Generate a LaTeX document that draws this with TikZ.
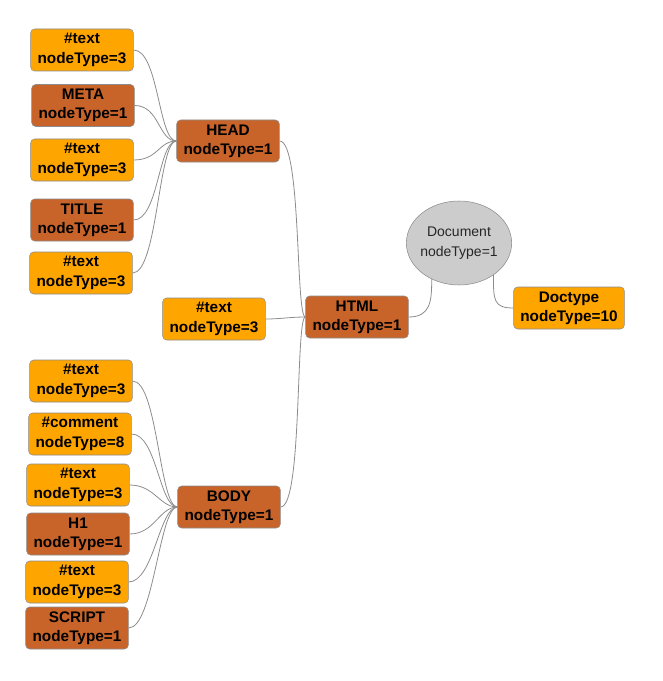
\documentclass[tikz,border=0pt]{standalone}
\usepackage{fontspec}
\setmainfont{Liberation Sans}
\usetikzlibrary{shapes.geometric}
\definecolor{boxorange}{HTML}{FFA500}
\definecolor{boxbrown}{HTML}{C8642A}
\definecolor{docgray}{HTML}{CCCCCC}
\definecolor{linegray}{HTML}{8C8C8C}
\begin{document}
\begin{tikzpicture}[x=0.75pt, y=-0.75pt,
        textnode/.style={fill=boxorange,draw=linegray,rectangle,rounded corners=3pt,align=center,
          minimum width=77pt,minimum height=31.5pt,inner sep=1pt,font=\fontsize{11.5}{14.5}\selectfont\bfseries},
        elemnode/.style={textnode,fill=boxbrown},
        docnode/.style={fill=docgray,draw=linegray,ellipse,minimum width=79pt,minimum height=63pt,
          inner xsep=-2pt,inner ysep=0pt,align=center,font=\fontsize{10.5}{14.5}\selectfont,text=black!85},
        link/.style={draw=linegray,line width=0.6pt}
        ]
        \useasboundingbox (0,0) rectangle (662,681);
        % root
        \node[docnode] (doc) at (459,243) {Document\\nodeType=1};
        \node[textnode,minimum width=83pt] (doctype) at (569,308) {Doctype\\nodeType=10};
        \node[elemnode] (html) at (357,317) {HTML\\nodeType=1};
        \node[textnode] (htmltext) at (214,319) {\#text\\nodeType=3};
        \node[elemnode] (head) at (228,141) {HEAD\\nodeType=1};
        \node[elemnode] (body) at (229,507) {BODY\\nodeType=1};
        % head children
        \node[textnode] (headtexta) at (82,50) {\#text\\nodeType=3};
        \node[elemnode] (meta) at (83,105.5) {META\\nodeType=1};
        \node[textnode] (headtextb) at (82,160) {\#text\\nodeType=3};
        \node[elemnode] (title) at (82,220) {TITLE\\nodeType=1};
        \node[textnode] (headtextc) at (81,273) {\#text\\nodeType=3};
        % body children
        \node[textnode] (bodytexta) at (81,381) {\#text\\nodeType=3};
        \node[textnode] (comment) at (80,434) {\#comment\\nodeType=8};
        \node[textnode] (bodytextb) at (78,485) {\#text\\nodeType=3};
        \node[elemnode] (hone) at (78,534) {H1\\nodeType=1};
        \node[textnode] (bodytextc) at (77,582) {\#text\\nodeType=3};
        \node[elemnode] (script) at (77,628) {SCRIPT\\nodeType=1};
        % connectors
        \draw[link] (html.east) .. controls +(22,0) and +(0,22) .. (doc.-127);
        \draw[link] (doc.-43) .. controls +(0,25) and +(-20,0) .. (doctype.west);
        \draw[link] (head.east) .. controls +(22,0) and +(-10,0) .. (html.west);
        \draw[link] (htmltext.east) .. controls +(15,0) and +(-15,0) .. (html.west);
        \draw[link] (body.east) .. controls +(22,0) and +(-10,0) .. (html.west);
        \draw[link] (headtexta.east) .. controls +(25,0) and +(-18,0) .. (head.west);
        \draw[link] (meta.east) .. controls +(25,0) and +(-18,0) .. (head.west);
        \draw[link] (headtextb.east) .. controls +(25,0) and +(-18,0) .. (head.west);
        \draw[link] (title.east) .. controls +(25,0) and +(-18,0) .. (head.west);
        \draw[link] (headtextc.east) .. controls +(25,0) and +(-18,0) .. (head.west);
        \draw[link] (bodytexta.east) .. controls +(25,0) and +(-18,0) .. (body.west);
        \draw[link] (comment.east) .. controls +(25,0) and +(-18,0) .. (body.west);
        \draw[link] (bodytextb.east) .. controls +(25,0) and +(-18,0) .. (body.west);
        \draw[link] (hone.east) .. controls +(25,0) and +(-18,0) .. (body.west);
        \draw[link] (bodytextc.east) .. controls +(25,0) and +(-18,0) .. (body.west);
        \draw[link] (script.east) .. controls +(25,0) and +(-18,0) .. (body.west);
      \end{tikzpicture}
\end{document}
